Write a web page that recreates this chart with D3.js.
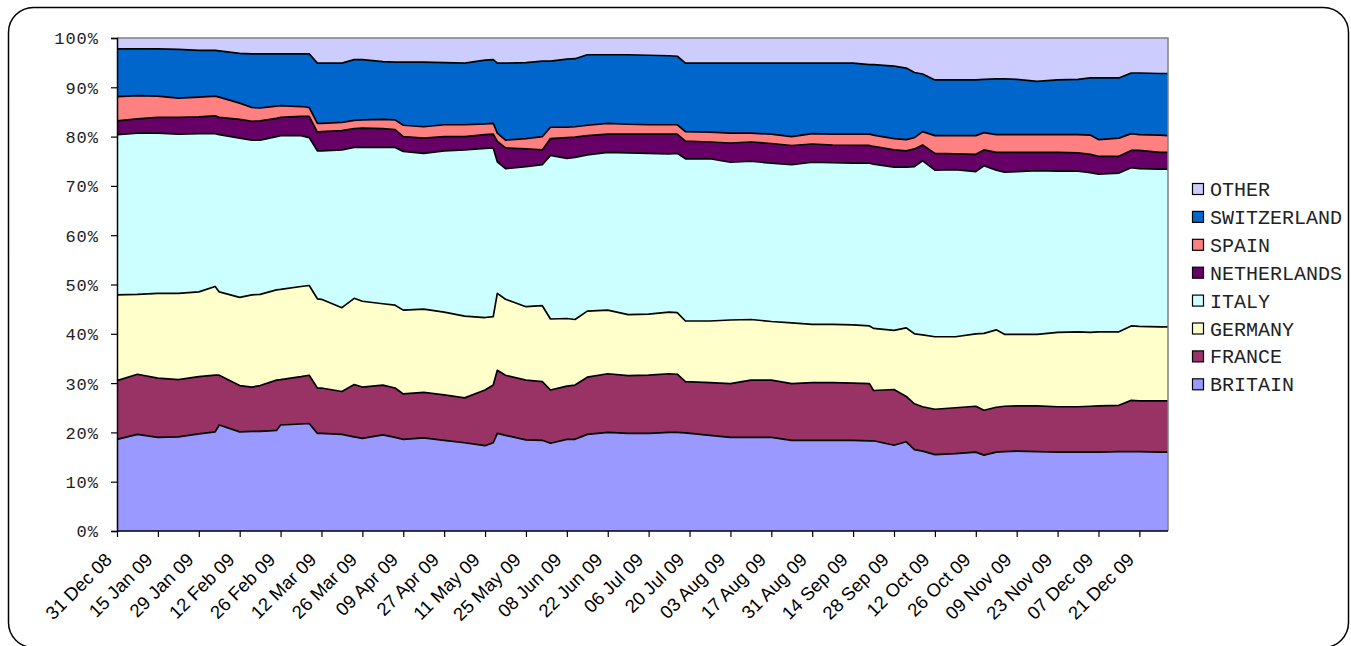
<!DOCTYPE html>
<html>
<head>
<meta charset="utf-8">
<script src="https://cdn.jsdelivr.net/npm/d3@7"></script>
<style>
  body { margin: 0; background: #fff; }
  .ylab { font-family: "Courier New", "Liberation Mono", monospace; font-size: 17px; letter-spacing: 1px; fill: #222; }
  .leg { font-family: "Courier New", "Liberation Mono", monospace; font-size: 20px; fill: #222; }
  .xlab { font-family: Arial, "Liberation Sans", sans-serif; font-size: 18.5px; fill: #000; }
</style>
</head>
<body>
<svg id="chart" width="1351" height="646"></svg>
<script>
//
// Data (share of each country, %, read at these trading-day positions)
//
const dayIndex = [0,5,10,15,20,24,25,30,33,35,39,40,45,47,49,50,55,58,60,65,68,70,75,80,85,90,92,93,95,100,104,106,110,112,115,120,125,130,135,137,139,145,150,155,160,165,170,175,180,184,185,190,193,195,197,200,205,210,212,215,217,220,225,230,235,238,240,245,248,250,255,257]

const britain = [18.6,19.6,19.0,19.1,19.7,20.1,21.5,20.1,20.2,20.2,20.4,21.5,21.7,21.8,19.8,19.8,19.6,19.1,18.8,19.5,19.0,18.6,18.9,18.4,17.9,17.3,17.9,19.8,19.4,18.5,18.4,17.8,18.6,18.6,19.6,20.0,19.8,19.8,20.0,20.0,19.9,19.4,19.0,19.0,19.0,18.4,18.4,18.4,18.4,18.3,18.3,17.4,18.1,16.5,16.2,15.5,15.7,16.0,15.4,16.0,16.1,16.2,16.1,16.0,16.0,16.0,16.0,16.1,16.1,16.1,16.0,16.0]
const france = [11.9,12.2,12.0,11.6,11.6,11.5,10.1,9.4,9.0,9.3,10.2,9.2,9.6,9.8,9.2,9.2,8.7,10.6,10.4,10.1,10.0,9.2,9.2,9.2,9.1,11.3,11.7,12.8,12.2,12.1,11.9,10.8,10.8,11.0,11.6,11.9,11.7,11.8,11.9,11.8,10.4,10.7,10.9,11.6,11.6,11.5,11.7,11.7,11.6,11.6,10.2,11.3,9.2,9.3,9.0,9.2,9.3,9.3,9.1,9.1,9.2,9.2,9.3,9.2,9.2,9.3,9.4,9.4,10.4,10.3,10.4,10.4]
const germany = [17.4,16.2,17.2,17.5,17.2,18.0,16.9,17.9,18.7,18.5,18.3,18.3,18.3,18.2,18.1,18.0,17.0,17.5,17.4,16.5,16.8,17.0,16.9,16.8,16.6,14.7,13.9,15.6,15.4,14.9,15.4,14.4,13.7,13.3,13.4,12.9,12.4,12.4,12.5,12.5,12.3,12.5,12.9,12.3,11.9,12.3,11.8,11.8,11.8,11.7,12.6,12.0,13.9,14.2,14.6,14.7,14.4,14.7,15.6,15.7,14.6,14.5,14.5,15.1,15.2,15.0,15.0,14.9,15.1,15.1,15.0,15.0]
const italy = [32.5,32.7,32.5,32.3,32.1,31.0,31.9,32.3,31.4,31.3,31.1,31.2,30.6,30.0,30.0,30.1,32.0,30.6,31.2,31.7,32.0,32.2,31.6,32.7,33.7,34.3,34.2,26.7,26.5,28.4,28.6,33.2,32.5,32.9,31.7,32.0,32.8,32.6,32.1,32.3,32.9,32.9,32.0,32.1,32.1,32.1,32.9,32.8,32.8,33.0,33.3,33.1,32.6,33.9,35.3,33.8,33.9,32.9,34.0,32.4,32.9,33.0,33.2,32.7,32.6,32.4,32.0,32.2,32.1,32.0,32.0,32.0]
const netherlands = [2.8,2.9,3.2,3.4,3.4,3.6,3.5,3.8,3.8,3.9,3.7,3.7,3.9,4.3,3.8,3.9,3.9,3.8,3.9,3.8,3.6,3.0,3.1,2.9,2.7,2.8,2.8,4.1,4.2,3.6,3.0,3.4,4.2,4.1,3.9,3.7,3.8,3.9,4.0,3.9,3.6,3.4,3.9,3.9,4.0,3.9,3.7,3.6,3.6,3.6,3.6,3.5,3.3,3.6,3.2,3.4,3.2,3.5,3.2,3.6,4.0,3.9,3.7,3.8,3.7,3.7,3.6,3.4,3.5,3.7,3.4,3.4]
const spain = [4.9,4.7,4.3,3.9,4.0,4.0,4.1,3.3,2.8,2.6,2.5,2.4,2.0,1.8,1.8,1.7,1.7,1.7,1.7,1.9,2.0,2.3,2.3,2.4,2.4,2.2,2.2,1.7,1.6,2.1,2.7,2.3,2.1,2.1,2.1,2.2,2.0,1.9,1.9,1.9,1.9,2.0,2.0,1.8,1.9,1.8,2.1,2.2,2.3,2.3,2.3,2.3,2.3,2.3,2.7,3.6,3.7,3.8,3.5,3.6,3.6,3.6,3.6,3.6,3.7,3.9,3.4,3.7,3.4,3.2,3.5,3.4]
const switzerland = [9.7,9.5,9.6,9.9,9.5,9.3,9.4,10.1,10.9,11.0,10.6,10.5,10.7,10.9,12.2,12.2,12.0,12.3,12.2,11.7,11.7,12.8,13.1,12.6,12.5,12.9,12.9,14.2,15.6,15.4,15.3,13.4,13.8,13.8,14.3,13.9,14.1,14.1,14.0,13.9,13.9,14.0,14.2,14.2,14.4,14.9,14.3,14.4,14.4,14.1,14.3,14.7,14.5,13.2,11.7,11.3,11.3,11.3,10.8,11.3,11.3,11.2,10.8,11.1,11.2,11.6,12.5,12.2,12.3,12.5,12.5,12.6]
const other = [2.2,2.2,2.2,2.3,2.5,2.5,2.6,3.1,3.2,3.2,3.2,3.2,3.2,3.2,5.1,5.1,5.1,4.4,4.4,4.8,4.9,4.9,4.9,5.0,5.1,4.5,4.4,5.1,5.1,5.0,4.7,4.7,4.3,4.2,3.4,3.4,3.4,3.5,3.6,3.7,5.1,5.1,5.1,5.1,5.1,5.1,5.1,5.1,5.1,5.4,5.4,5.7,6.1,7.0,7.3,8.5,8.5,8.5,8.4,8.3,8.3,8.4,8.8,8.5,8.4,8.1,8.1,8.1,7.1,7.1,7.2,7.2]

const countries = ['BRITAIN','FRANCE','GERMANY','ITALY','NETHERLANDS','SPAIN','SWITZERLAND','OTHER']
const seriesValues = [britain, france, germany, italy, netherlands, spain, switzerland, other]
const colors = ['#9999ff','#993366','#ffffcc','#ccffff','#660066','#ff8080','#0066cc','#ccccff']

const lastDay = 257
const tickDays = [0,10,20,30,40,50,60,70,80,90,100,110,120,130,140,150,160,170,180,190,200,210,220,230,240,250]
const tickLabels = ['31 Dec 08','15 Jan 09','29 Jan 09','12 Feb 09','26 Feb 09','12 Mar 09','26 Mar 09','09 Apr 09','27 Apr 09','11 May 09','25 May 09','08 Jun 09','22 Jun 09','06 Jul 09','20 Jul 09','03 Aug 09','17 Aug 09','31 Aug 09','14 Sep 09','28 Sep 09','12 Oct 09','26 Oct 09','09 Nov 09','23 Nov 09','07 Dec 09','21 Dec 09']
const yTicks = [0,0.1,0.2,0.3,0.4,0.5,0.6,0.7,0.8,0.9,1]

//
// Layout
//
var svg = d3.select('#chart')
var plot = { left: 117, right: 1168, top: 38, bottom: 531 }

// rounded outer frame (bottom edge runs just off the picture)
svg.append('rect')
  .attr('x', 8.5).attr('y', 7.5)
  .attr('width', 1340).attr('height', 640)
  .attr('rx', 25).attr('ry', 25)
  .attr('fill', '#fff')
  .attr('stroke', '#000')
  .attr('stroke-width', 1.5)

var x = d3.scaleLinear().domain([0, lastDay]).range([plot.left, plot.right])
var y = d3.scaleLinear().domain([0, 1]).range([plot.bottom, plot.top])

// build rows for the stack
var rows = dayIndex.map(function(d, i) {
  var row = { day: d }
  countries.forEach(function(c, k) { row[c] = seriesValues[k][i] })
  return row
})

var stack = d3.stack().keys(countries).offset(d3.stackOffsetExpand)
var layers = stack(rows)

var area = d3.area()
  .x(function(d) { return x(d.data.day) })
  .y0(function(d) { return y(d[0]) })
  .y1(function(d) { return y(d[1]) })

var topLine = d3.line()
  .x(function(d) { return x(d.data.day) })
  .y(function(d) { return y(d[1]) })

svg.append('g').selectAll('path')
  .data(layers)
  .enter().append('path')
  .attr('d', area)
  .attr('fill', function(d, i) { return colors[i] })

// black borders between the areas
svg.append('g').selectAll('path')
  .data(layers.slice(0, layers.length - 1))
  .enter().append('path')
  .attr('d', topLine)
  .attr('fill', 'none')
  .attr('stroke', '#000')
  .attr('stroke-width', 1.7)
  .attr('stroke-linejoin', 'round')

// plot frame (grey top / right)
svg.append('path')
  .attr('d', 'M' + plot.left + ',' + plot.top + 'H' + plot.right + 'V' + plot.bottom)
  .attr('fill', 'none')
  .attr('stroke', '#808080')
  .attr('stroke-width', 1.5)

// y axis
var yAxis = svg.append('g').attr('transform', 'translate(' + plot.left + ',0)')
  .call(d3.axisLeft(y).tickValues(yTicks).tickSize(6).tickFormat(function(d) { return Math.round(d * 100) + '%' }))
yAxis.select('.domain').attr('stroke', '#000').attr('stroke-width', 1.5)
yAxis.selectAll('.tick line').attr('stroke', '#000').attr('stroke-width', 1.2)
yAxis.selectAll('.tick text').attr('class', 'ylab').attr('x', -18).attr('dy', '0.35em')
  .attr('font-family', null).attr('font-size', null).attr('fill', null)

// x axis
var xAxis = svg.append('g').attr('transform', 'translate(0,' + plot.bottom + ')')
  .call(d3.axisBottom(x).tickValues(tickDays).tickSize(6).tickFormat(''))
xAxis.select('.domain').attr('stroke', '#000').attr('stroke-width', 1.5)
  .attr('d', 'M' + plot.left + ',0H' + plot.right)
xAxis.selectAll('.tick line').attr('stroke', '#000').attr('stroke-width', 1.2)

svg.append('g').selectAll('text')
  .data(tickDays)
  .enter().append('text')
  .attr('class', 'xlab')
  .attr('text-anchor', 'end')
  .attr('transform', function(d) { return 'translate(' + (x(d) - 4) + ',' + (plot.bottom + 30) + ') rotate(-45)' })
  .text(function(d, i) { return tickLabels[i] })

// legend, top entry is OTHER
var legendOrder = countries.slice().reverse()
var legend = svg.append('g').selectAll('g')
  .data(legendOrder)
  .enter().append('g')
  .attr('transform', function(d, i) { return 'translate(1192,' + (189 + i * 27.9) + ')' })

legend.append('rect')
  .attr('x', 0.5).attr('y', -5.5)
  .attr('width', 11).attr('height', 11)
  .attr('fill', function(d) { return colors[countries.indexOf(d)] })
  .attr('stroke', '#000')
  .attr('stroke-width', 1.2)

legend.append('text')
  .attr('class', 'leg')
  .attr('x', 18)
  .attr('dy', '0.35em')
  .text(function(d) { return d })
</script>
</body>
</html>
